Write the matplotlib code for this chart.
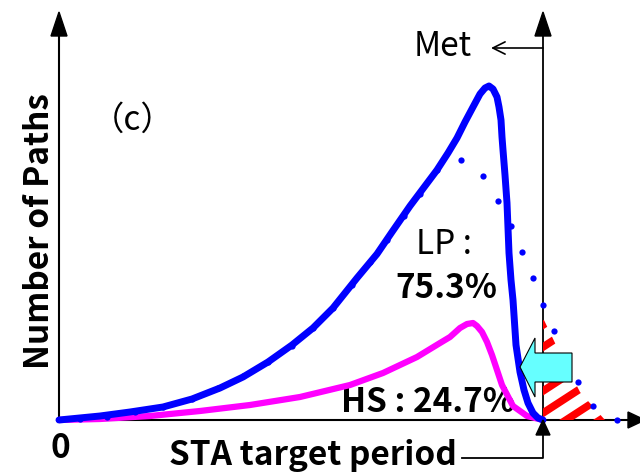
import matplotlib
matplotlib.use("Agg")
import matplotlib.pyplot as plt
import numpy as np
from matplotlib.patches import Polygon

plt.rcParams['font.family'] = ['Noto Sans CJK JP', 'DejaVu Sans']

# chart units: x = time from 0, y = number of paths
target = 484

lp_x = [0, 41, 71, 104, 133, 161, 184, 209, 233, 254, 274, 298, 318, 333, 351, 378,
        389, 398, 406, 414, 421, 426, 430, 434, 438, 440, 442, 443, 444, 446, 448,
        450, 452, 454, 457, 461, 465, 469, 474, 479, 484]
lp_y = [0, 4, 8, 13, 21, 32, 43, 58, 75, 92, 112, 142, 166, 188, 214, 250,
        267, 282, 298, 313, 326, 332, 334, 331, 323, 313, 300, 283, 270, 245, 217,
        167, 140, 120, 75, 48, 30, 17, 7, 2, 0]

hs_x = [0, 41, 91, 141, 191, 241, 291, 324, 358, 381, 391, 401, 408, 414, 418, 423,
        428, 433, 443, 454, 468, 484]
hs_y = [0, 1, 4, 9, 15, 23, 35, 47, 63, 77, 83, 92, 96, 97, 94, 88,
        78, 65, 35, 14, 4, 0]

orig_x = [21, 48, 76, 104, 133, 159, 184, 209, 233, 254, 274, 293, 311, 328, 345, 361, 378,
          402, 424, 439, 452, 463, 474, 484, 495, 507, 519, 534, 558]
orig_y = [1, 3, 8, 13, 21, 32, 44, 58, 74, 92, 112, 135, 158, 180, 204, 226, 250,
          260, 244, 219, 194, 168, 142, 115, 89, 63, 38, 14, 0]

# violating region beyond the target period
viol_x = [484, 497, 521, 546]
viol_y = [102, 75, 28, 0]

fig = plt.figure(figsize=(6.4, 4.72), dpi=100)
ax = fig.add_axes([0, 0, 1, 1])
ax.set_xlim(-59, 581)
ax.set_ylim(-52, 420)
ax.axis('off')

# axes with arrow heads
ax.plot([0, 0], [0, 390], color='black', lw=1.5, zorder=2)
ax.plot([0, 575], [0, 0], color='black', lw=1.5, zorder=2)
ax.add_patch(Polygon([(0, 408), (-8, 384), (8, 384)], closed=True, color='black', zorder=2))
ax.add_patch(Polygon([(586, 0), (569, 8), (569, -8)], closed=True, color='black', zorder=2))

# target period line
ax.plot([403, target, target], [-38, -38, 390], color='black', lw=1.3, zorder=2)
ax.add_patch(Polygon([(target, 408), (target - 8, 384), (target + 8, 384)],
                     closed=True, color='black', zorder=2))
ax.add_patch(Polygon([(target, 0), (target - 7, -15), (target + 7, -15)],
                     closed=True, color='black', zorder=6))
ax.annotate('', xy=(432, 372), xytext=(target, 372),
            arrowprops=dict(arrowstyle='->', lw=1.2, color='black',
                            mutation_scale=22, shrinkA=0, shrinkB=0))

# red hatched area, drawn as thick stripes clipped to the region
region = Polygon(list(zip(viol_x, viol_y)) + [(target, 0)], closed=True,
                 facecolor='none', edgecolor='none')
ax.add_patch(region)
slope = np.tan(np.radians(33))
for c in [95, 73, 51, 29, 7, -15, -37, -59]:
    xs = np.array([target - 20, target + 100])
    ln, = ax.plot(xs, c + slope * (xs - target), color='red', lw=5.5,
                  solid_capstyle='butt', zorder=3)
    ln.set_clip_path(region)

# curves
ax.plot(hs_x, hs_y, color='#ff00ff', lw=4.5, solid_joinstyle='round',
        solid_capstyle='round', zorder=4)
ax.plot(lp_x, lp_y, color='#0000ff', lw=5, solid_joinstyle='round',
        solid_capstyle='round', zorder=5)
ax.plot(orig_x, orig_y, 'o', color='#0000ff', ms=4.5, mec='none', zorder=5)

# cyan block arrow
ax.add_patch(Polygon([(461, 53), (476, 82), (476, 67), (513, 67), (513, 38),
                      (476, 38), (476, 23)], closed=True, facecolor='#66ffff',
                     edgecolor='black', lw=0.8, zorder=7))

# texts
fs = 24
bw = 'bold'
ax.text(74, 300, '（c）', fontsize=fs, ha='center', va='center')
ax.text(-19, 189, 'Number of Paths', fontsize=fs, fontweight=bw, rotation=90,
        ha='center', va='center')
ax.text(384, 374, 'Met', fontsize=fs, ha='center', va='center')
ax.text(385, 175, 'LP :', fontsize=fs, ha='center', va='center')
ax.text(387, 132, '75.3%', fontsize=fs, fontweight=bw, ha='center', va='center')
ax.text(369, 17, 'HS : 24.7%', fontsize=fs, fontweight=bw, ha='center', va='center')
ax.text(1, -28, '0', fontsize=fs, fontweight=bw, ha='center', va='center')
ax.text(254, -35, 'STA target period', fontsize=fs, fontweight=bw,
        ha='center', va='center')

fig.savefig('out.png', dpi=100)
